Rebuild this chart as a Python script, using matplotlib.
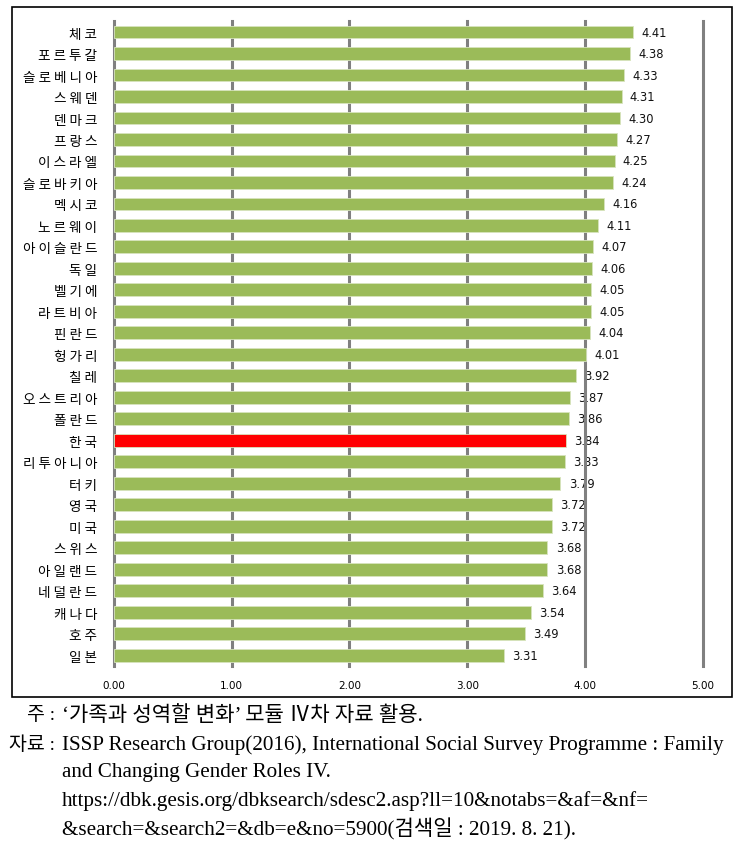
import matplotlib
matplotlib.use("Agg")
import matplotlib.pyplot as plt
from matplotlib.patches import Rectangle

countries = ["체코", "포르투갈", "슬로베니아", "스웨덴", "덴마크", "프랑스", "이스라엘",
             "슬로바키아", "멕시코", "노르웨이", "아이슬란드", "독일", "벨기에", "라트비아",
             "핀란드", "헝가리", "칠레", "오스트리아", "폴란드", "한국", "리투아니아",
             "터키", "영국", "미국", "스위스", "아일랜드", "네덜란드", "캐나다", "호주", "일본"]
values = [4.41, 4.38, 4.33, 4.31, 4.30, 4.27, 4.25, 4.24, 4.16, 4.11, 4.07, 4.06,
          4.05, 4.05, 4.04, 4.01, 3.92, 3.87, 3.86, 3.84, 3.83, 3.79, 3.72, 3.72,
          3.68, 3.68, 3.64, 3.54, 3.49, 3.31]
highlight = "한국"
xticks = [0, 1, 2, 3, 4, 5]

note_lines = [
    ("주 : ", "‘가족과 성역할 변화’ 모듈 Ⅳ차 자료 활용."),
    ("자료 : ", "ISSP Research Group(2016), International Social Survey Programme : Family"),
    ("", "and Changing Gender Roles IV."),
    ("", "https://dbk.gesis.org/dbksearch/sdesc2.asp?ll=10&notabs=&af=&nf="),
    ("", "&search=&search2=&db=e&no=5900(검색일 : 2019. 8. 21)."),
]

W, H = 749, 853
KR = ["Noto Sans CJK KR", "DejaVu Sans"]
SERIF = ["Liberation Serif", "Noto Sans CJK KR"]

fig = plt.figure(figsize=(W / 100, H / 100), dpi=100)
fig.patch.set_facecolor("white")

# outer frame
fig.add_artist(Rectangle((12.3 / W, 1 - 698.3 / H), (731.7 - 12.3) / W, (698.3 - 8.3) / H,
                         transform=fig.transFigure, fill=False, edgecolor="black",
                         linewidth=1.2))

left, right = 113.7 / W, 703 / W
top, bottom = 1 - 22.3 / H, 1 - 667 / H
ax = fig.add_axes([left, bottom, right - left, top - bottom])

n = len(countries)
ypos = list(range(n))
colors = ["#FF0000" if c == highlight else "#9BBB59" for c in countries]
ax.barh(ypos, values, height=0.6, color=colors, edgecolor="#D7E4BD",
        linewidth=0.6, zorder=3)

for y, v in zip(ypos, values):
    ax.text(v + 0.07, y, f"{v:.2f}", va="center", ha="left", fontsize=8.3,
            family="DejaVu Sans", color="#111111", zorder=1)

for t in xticks:
    ax.axvline(t, color="#808080", linewidth=2.2, zorder=2, clip_on=False)

ax.set_xlim(0, 5)
ax.set_ylim(n - 0.5, -0.5)
ax.set_xticks(xticks)
ax.set_xticklabels([f"{t:.2f}" for t in xticks], fontsize=7.5, family="DejaVu Sans")
ax.set_yticks(ypos)
ax.set_yticklabels([" ".join(c) for c in countries], family=KR, fontsize=9.8)
ax.tick_params(axis="both", length=0)
ax.tick_params(axis="y", pad=12)
ax.tick_params(axis="x", pad=10)
for s in ax.spines.values():
    s.set_visible(False)

# footnotes
ys = [716, 745, 773, 801, 829]
for (head, body), yp in zip(note_lines, ys):
    if head:
        fig.text(60 / W, 1 - yp / H, head, ha="right", va="center",
                 family=SERIF, fontsize=14)
    fig.text(62 / W, 1 - yp / H, body, ha="left", va="center",
             family=SERIF, fontsize=15.2)

fig.savefig("out.png", dpi=100)
